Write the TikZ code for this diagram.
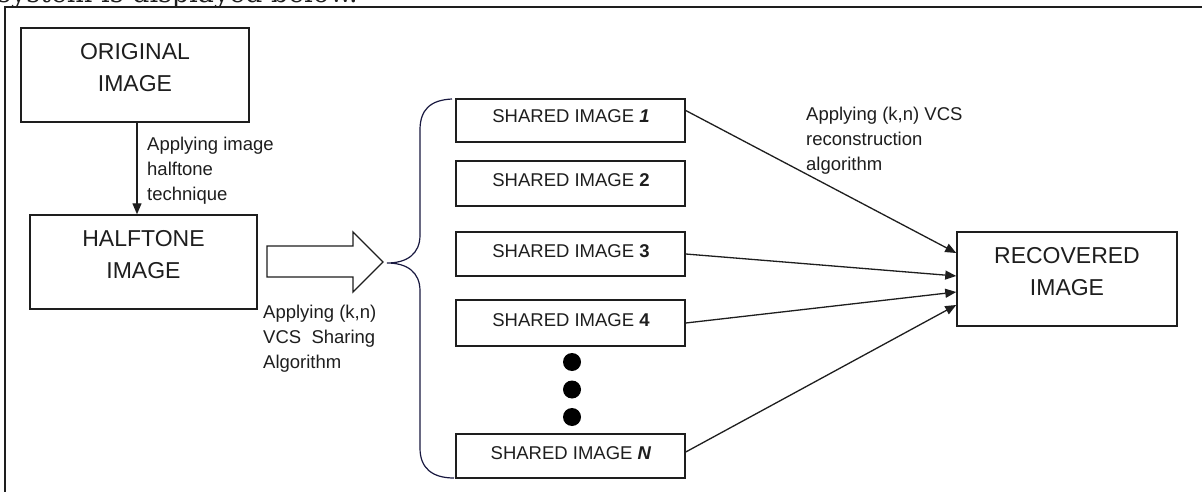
\documentclass[tikz,border=0pt]{standalone}
\usepackage{fontspec}
\setmainfont{Liberation Sans}
\newfontfamily\topserif{DejaVu Serif}
\usetikzlibrary{arrows.meta}
\definecolor{ink}{HTML}{1E1E1E}
\tikzset{
  box/.style={draw=ink, line width=1.5pt, inner sep=0pt, minimum width=#1},
  box/.default=229pt,
  bigtxt/.style={font=\fontsize{23}{32}\selectfont, align=center, inner sep=0pt, text=ink},
  lbl/.style={font=\fontsize{18.5}{25}\selectfont, align=left, anchor=north west, inner sep=0pt, text=ink},
  shtxt/.style={font=\fontsize{18.5}{22}\selectfont, inner sep=0pt, text=ink},
  arr/.style={draw=ink, line width=1.3pt, -{Triangle[length=11pt,width=9pt]}},
  dotmark/.style={circle, fill=black, minimum size=18pt, inner sep=0pt}
}
\begin{document}
\begin{tikzpicture}[x=1pt,y=-1pt]
\useasboundingbox (0,0) rectangle (1202,492);
\fill[white] (0,0) rectangle (1202,492);
% cut-off text above the frame
\begin{scope}
\clip (0,0) rectangle (1202,6);
\node[anchor=base west, inner sep=0pt, font=\topserif\fontsize{27}{30}\selectfont, text=ink] (toptext) at (-3,3) {system is displayed below.};
\end{scope}
% frame
\draw[ink, line width=2pt] (5,492) -- (5,7) -- (1202,7);

% left column
\node[box=228pt, minimum height=94pt] (orig) at (135,75) {};
\node[bigtxt] (origt) at (135,67.5) {ORIGINAL\\IMAGE};
\node[box=227pt, minimum height=94pt] (half) at (143.5,262) {};
\node[bigtxt] (halft) at (143.5,254.5) {HALFTONE\\IMAGE};
\draw[arr] ([xshift=2pt]orig.south) -- ([xshift=2pt]orig.south |- half.north);
\node[lbl] (lab1) at (147,136.7) {Applying image\\halftone\\technique};

% hollow arrow
\coordinate (brtip) at (387,263);
\draw[ink, line width=1.3pt, line join=miter] (267,246) -- (353,246) -- (353,232) -- (383,262) -- (353,292) -- (353,277) -- (267,277) -- cycle;
\node[lbl] (lab2) at (263,304.7) {Applying (k,n)\\VCS\ \ Sharing\\Algorithm};

% brace
\draw[ink!85!blue, line width=1.2pt] (452,99) .. controls (430,100) and (420,110) .. (420,130) -- (420,235)
  .. controls (420,254) and (407,263) .. (brtip)
  .. controls (407,263) and (420,272) .. (420,291) -- (420,448)
  .. controls (420,468) and (432,478) .. (454,478);

% shared images
\node[box, minimum height=43pt] (b1) at (570.5,120.5) {};
\node[shtxt] (t1) at (571,116) {SHARED IMAGE \textbf{\textit{1}}};
\node[box, minimum height=45pt] (b2) at (570.5,183.5) {};
\node[shtxt] (t2) at (571,180) {SHARED IMAGE \textbf{2}};
\node[box, minimum height=44pt] (b3) at (570.5,254) {};
\node[shtxt] (t3) at (571,251) {SHARED IMAGE \textbf{3}};
\node[box, minimum height=46pt] (b4) at (570.5,323) {};
\node[shtxt] (t4) at (571,320) {SHARED IMAGE \textbf{4}};
\node[dotmark] (d1) at (572,362) {};
\node[dotmark] (d2) at (572,389.5) {};
\node[dotmark] (d3) at (572,417) {};
\node[box, minimum height=44pt] (bN) at (570.5,456) {};
\node[shtxt] (tN) at (571,453) {SHARED IMAGE \textbf{\textit{N}}};

% recovered
\node[box=220pt, minimum height=94pt] (rec) at (1067,279) {};
\node[bigtxt] (rect) at (1067,271.5) {RECOVERED\\IMAGE};
\node[lbl] (lab3) at (806,106.7) {Applying (k,n) VCS\\reconstruction\\algorithm};

\draw[arr] ([yshift=10pt]b1.east) -- ([yshift=26pt]rec.west);
\draw[arr] (b3.east) -- ([yshift=3pt]rec.west);
\draw[arr] (b4.east) -- ([yshift=-13pt]rec.west);
\draw[arr] ([yshift=4pt]bN.east) -- ([yshift=-26pt]rec.west);
\end{tikzpicture}
\end{document}
